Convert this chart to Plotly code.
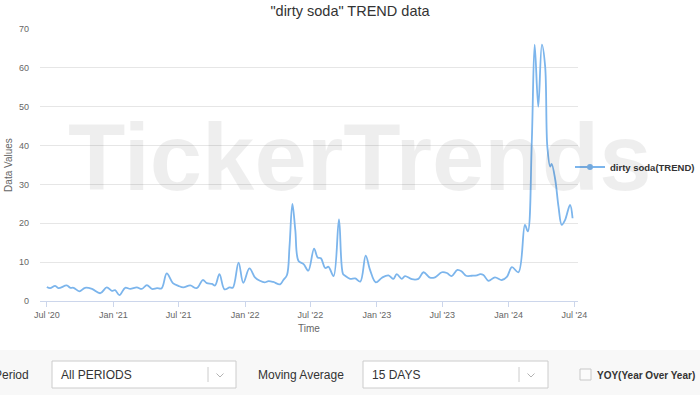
import plotly.graph_objects as go

# ---------------- data ----------------
dates = [
    "2020-07-01", "2020-07-10", "2020-07-24", "2020-08-02", "2020-08-25", "2020-09-04",
    "2020-09-13", "2020-09-29", "2020-10-15", "2020-11-03", "2020-11-26", "2020-12-14",
    "2020-12-28", "2021-01-06", "2021-01-18", "2021-02-03", "2021-02-17", "2021-03-07",
    "2021-03-21", "2021-04-04", "2021-04-18", "2021-05-02", "2021-05-15", "2021-05-29",
    "2021-06-15", "2021-06-30", "2021-07-14", "2021-08-02", "2021-08-20", "2021-09-06",
    "2021-09-17", "2021-10-01", "2021-10-10", "2021-10-22", "2021-11-05", "2021-11-19",
    "2021-11-28", "2021-12-14", "2021-12-27", "2022-01-13", "2022-01-29", "2022-02-11",
    "2022-02-24", "2022-03-07", "2022-03-20", "2022-04-08", "2022-04-17", "2022-04-27",
    "2022-05-04", "2022-05-12", "2022-05-20", "2022-05-29", "2022-06-12", "2022-06-25",
    "2022-07-11", "2022-07-21", "2022-07-30", "2022-08-11", "2022-08-20", "2022-09-03",
    "2022-09-18", "2022-09-29", "2022-10-05", "2022-10-19", "2022-11-02", "2022-11-16",
    "2022-12-01", "2022-12-13", "2022-12-29", "2023-01-15", "2023-02-02", "2023-02-16",
    "2023-02-25", "2023-03-11", "2023-03-20", "2023-04-08", "2023-04-26", "2023-05-10",
    "2023-05-28", "2023-06-11", "2023-06-30", "2023-07-14", "2023-07-27", "2023-08-12",
    "2023-08-24", "2023-09-05", "2023-09-21", "2023-10-05", "2023-10-14", "2023-10-23",
    "2023-11-06", "2023-11-24", "2023-12-13", "2023-12-27", "2024-01-10", "2024-01-28",
    "2024-02-15", "2024-02-23", "2024-03-05", "2024-03-13", "2024-03-23", "2024-04-02",
    "2024-04-11", "2024-04-17", "2024-04-25", "2024-04-29", "2024-05-09", "2024-05-18",
    "2024-05-27", "2024-06-05", "2024-06-19", "2024-06-26",
]
values = [
    3.6, 3.3, 3.9, 3.3, 4.0, 3.4,
    3.4, 2.5, 3.4, 3.1, 2.0, 3.5,
    2.6, 2.8, 1.5, 3.4, 3.1, 3.5,
    3.1, 4.1, 3.1, 3.3, 3.3, 7.1,
    4.6, 3.9, 3.5, 4.0, 3.3, 5.4,
    4.6, 4.4, 4.0, 6.9, 3.0, 3.5,
    3.4, 9.9, 4.7, 8.4, 6.0, 5.2,
    4.8, 5.1, 4.9, 4.3, 5.4, 6.7,
    14.0, 25.0, 18.3, 10.3, 9.5, 7.8,
    13.5, 11.2, 11.0, 8.5, 8.8, 6.4,
    21.0, 7.0, 6.5, 5.7, 5.8, 5.0,
    11.7, 8.0, 4.8, 6.0, 6.6, 5.7,
    6.9, 5.7, 6.4, 5.6, 5.7, 7.4,
    6.0, 6.1, 7.4, 7.2, 6.4, 8.0,
    7.6, 6.5, 6.5, 6.6, 6.9, 6.7,
    5.2, 6.1, 5.4, 6.2, 8.7, 7.4,
    19.6, 17.9, 41.0, 66.0, 50.0, 66.0,
    60.4, 39.8, 34.6, 35.3, 31.2, 24.3,
    19.6, 20.8, 24.7, 21.3,
]
series_name = "dirty soda(TREND)"
tick_dates = ["2020-07-01", "2021-01-01", "2021-07-01", "2022-01-01", "2022-07-01",
              "2023-01-01", "2023-07-01", "2024-01-01", "2024-07-01"]
tick_labels = ["Jul '20", "Jan '21", "Jul '21", "Jan '22", "Jul '22",
               "Jan '23", "Jul '23", "Jan '24", "Jul '24"]

# ---------------- figure ----------------
LINE = "#7cb5ec"
FONT = "Liberation Sans, Arial, sans-serif"
W, H = 700, 395
L, R, T, B = 40, 578, 29, 301   # plot area in pixels


def px(x):
    return (x - L) / (R - L)


def py(y):
    return (B - y) / (B - T)


fig = go.Figure()
fig.add_trace(go.Scatter(
    x=dates, y=values, mode="lines", name=series_name,
    line=dict(color=LINE, width=1.8, shape="spline", smoothing=1.0),
    showlegend=False, hoverinfo="x+y",
))
fig.add_trace(go.Scatter(
    x=[None], y=[None], mode="lines+markers", name=series_name,
    line=dict(color=LINE, width=1.8), marker=dict(color=LINE, size=6),
    showlegend=True,
))

shapes = []
annotations = []

# watermark
annotations.append(dict(
    text="TickerTrends", xref="paper", yref="paper", x=px(359), y=py(157),
    xanchor="center", yanchor="middle", showarrow=False,
    font=dict(family=FONT, size=94, color="rgba(0,0,0,0.065)", weight="bold"),
))

# bottom control strip
shapes.append(dict(type="rect", xref="paper", yref="paper", x0=px(-2), x1=px(702),
                   y0=py(350), y1=py(397), fillcolor="#f8f8f8", line=dict(width=0), layer="below"))


def dropdown(x0, x1, sep, text):
    shapes.append(dict(type="rect", xref="paper", yref="paper", x0=px(x0), x1=px(x1),
                       y0=py(388), y1=py(361), fillcolor="white",
                       line=dict(color="#cccccc", width=1)))
    shapes.append(dict(type="line", xref="paper", yref="paper", x0=px(sep), x1=px(sep),
                       y0=py(367), y1=py(382), line=dict(color="#cccccc", width=1)))
    cx = sep + 12
    shapes.append(dict(type="path", xref="paper", yref="paper",
                       path=f"M {px(cx-3.5)},{py(373.5)} L {px(cx)},{py(377)} L {px(cx+3.5)},{py(373.5)}",
                       line=dict(color="#b3b3b3", width=1)))
    annotations.append(dict(text=text, xref="paper", yref="paper", x=px(x0 + 7), y=py(375),
                            xanchor="left", yanchor="middle", showarrow=False,
                            font=dict(family=FONT, size=12, color="#333333")))


annotations.append(dict(text="Period", xref="paper", yref="paper", x=px(31), y=py(375),
                        xanchor="right", yanchor="middle", showarrow=False,
                        font=dict(family=FONT, size=12, color="#333333")))
dropdown(52, 236, 208, "All PERIODS")
annotations.append(dict(text="Moving Average", xref="paper", yref="paper", x=px(256), y=py(375),
                        xanchor="left", yanchor="middle", showarrow=False,
                        font=dict(family=FONT, size=12, color="#333333")))
dropdown(363, 548, 519, "15 DAYS")
shapes.append(dict(type="rect", xref="paper", yref="paper", x0=px(580), x1=px(591),
                   y0=py(380), y1=py(369), fillcolor="#fbfbfb", line=dict(color="#c8c8c8", width=1)))
annotations.append(dict(text="YOY(Year Over Year)", xref="paper", yref="paper", x=px(595), y=py(375),
                        xanchor="left", yanchor="middle", showarrow=False,
                        font=dict(family=FONT, size=10, color="#333333", weight="bold")))

fig.update_layout(
    width=W, height=H,
    margin=dict(l=L, r=W - R, t=T, b=H - B, pad=0, autoexpand=False),
    paper_bgcolor="white", plot_bgcolor="white",
    font=dict(family=FONT, color="#666666"),
    title=dict(text='"dirty soda" TREND data', xref="container", yref="container",
               x=0.5, xanchor="center", y=1 - 11 / H, yanchor="middle",
               font=dict(family=FONT, size=14.5, color="#333333")),
    xaxis=dict(
        type="date", range=["2020-06-12", "2024-07-11"],
        tickmode="array", tickvals=tick_dates, ticktext=tick_labels,
        showgrid=False, zeroline=False, showline=True, linecolor="#ccd6eb", linewidth=1,
        ticks="outside", ticklen=5, tickcolor="#ccd6eb", tickwidth=1,
        tickfont=dict(size=9, color="#666666"),
        title=dict(text="Time", font=dict(size=10, color="#666666"), standoff=6),
    ),
    yaxis=dict(
        range=[0, 70], dtick=10, tick0=0,
        showgrid=True, gridcolor="#e6e6e6", gridwidth=1, zeroline=False, showline=False,
        tickfont=dict(size=9, color="#666666"), ticklabelstandoff=10,
        title=dict(text="Data Values", font=dict(size=10, color="#666666"), standoff=4),
    ),
    legend=dict(x=px(570), xanchor="left", y=py(167), yanchor="middle",
                bgcolor="rgba(0,0,0,0)", itemwidth=30,
                font=dict(family=FONT, size=9.5, color="#333333", weight="bold")),
    shapes=shapes,
    annotations=annotations,
    hovermode="x",
)

fig.write_html("out.html", config={"displayModeBar": False},
               post_script="document.body.style.margin='0';")
